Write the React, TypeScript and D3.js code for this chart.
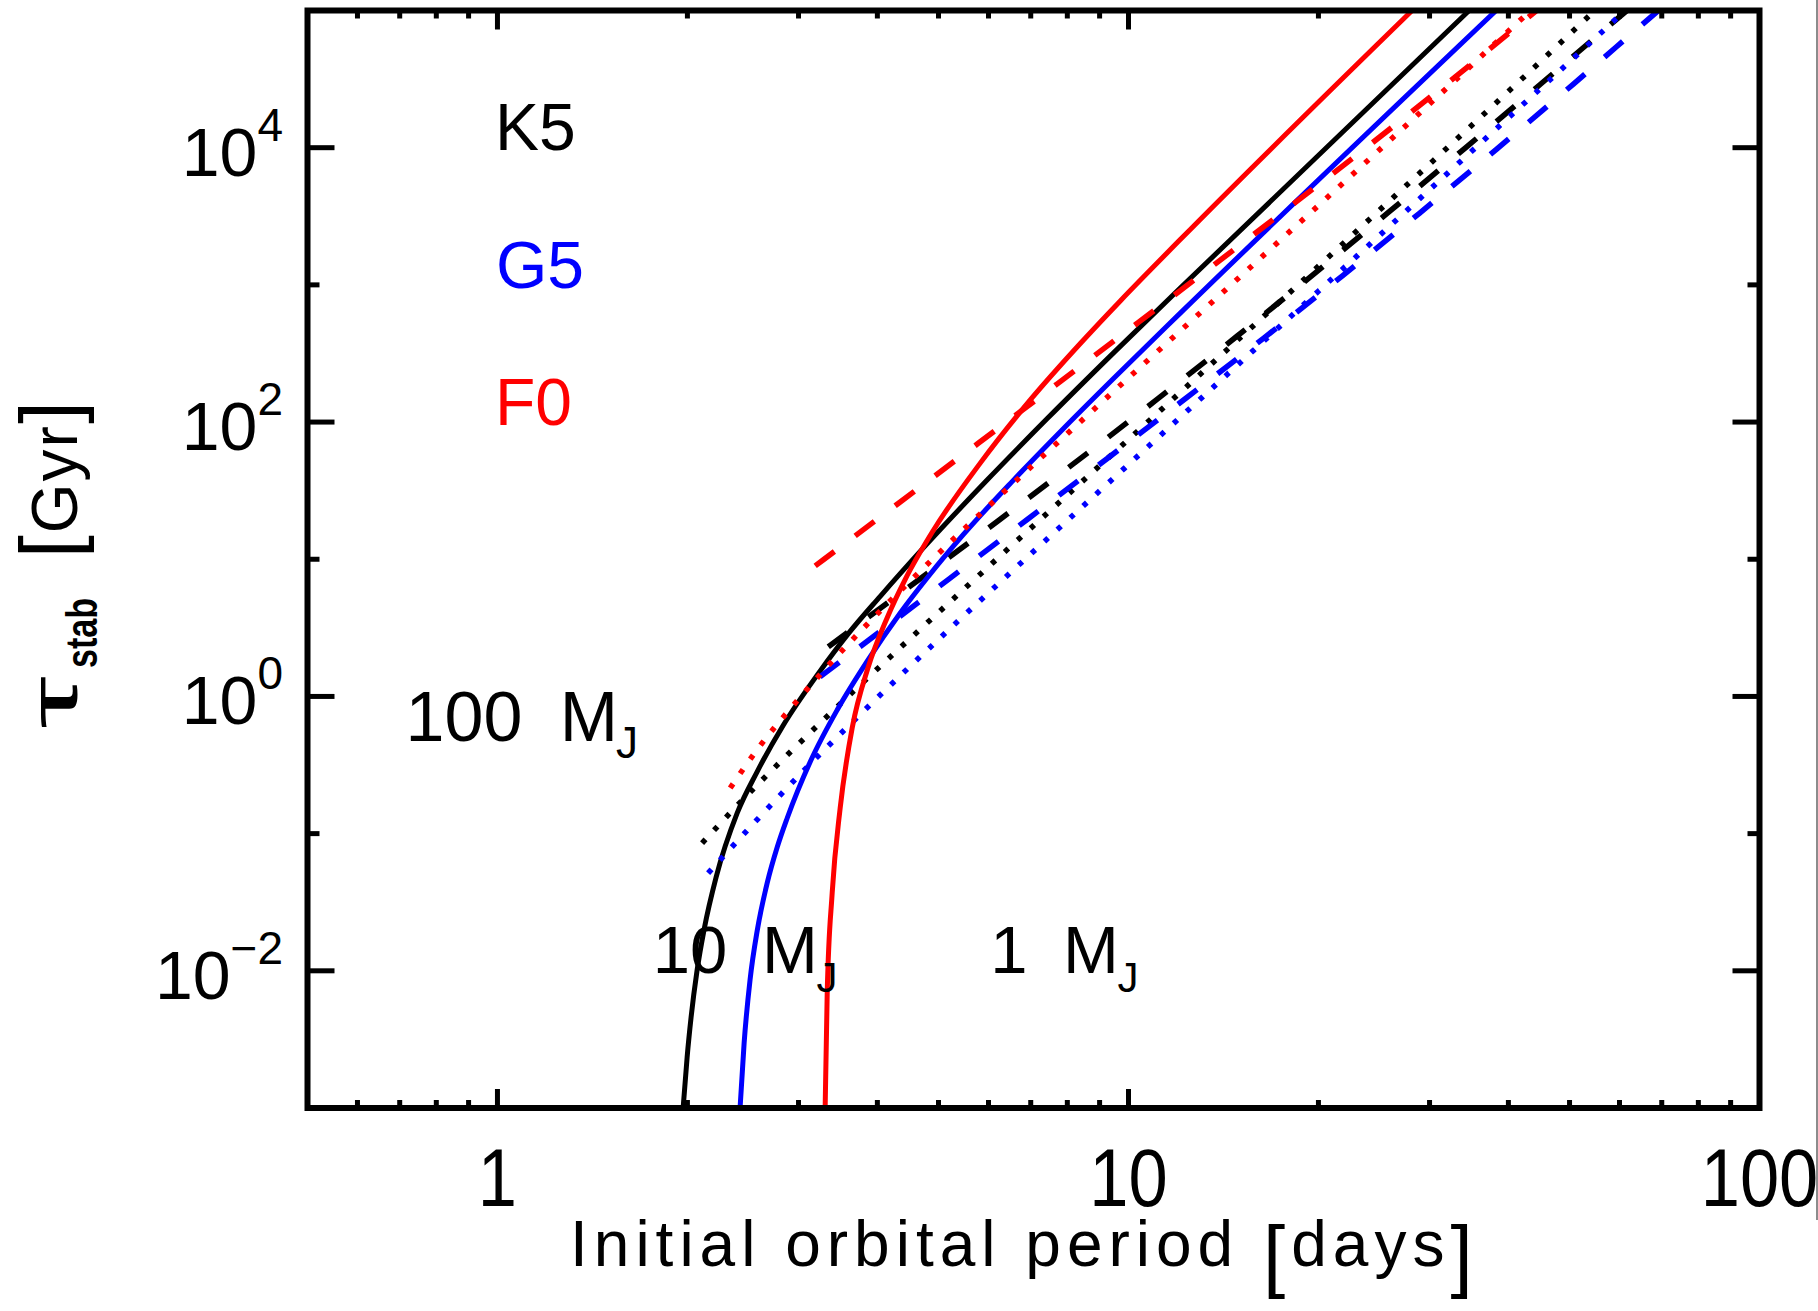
import React from 'react';
import * as d3 from 'd3';

const W = 1818;
const H = 1311;

// Axis domains
const X_DOMAIN: [number, number] = [0.5, 100];
const Y_DOMAIN: [number, number] = [1e-3, 1e5];

// Tick values and labels
const xMajorTicks = [1, 10];
const xLabelValues = [1, 10, 100];
const xTickLabels = ['1', '10', '100'];
const xMinorTicks = [0.6, 0.7, 0.8, 0.9, 2, 3, 4, 5, 6, 7, 8, 9, 20, 30, 40, 50, 60, 70, 80, 90];
const yMajorTicks = [1e-2, 1, 1e2, 1e4];
const yTickExponents = ['\u22122', '0', '2', '4'];
const yMinorTicks = [1e-1, 1e1, 1e3];

// Series: [initial orbital period (days), tau_stab (Gyr)]
const k5Solid: [number, number][] = [
  [1.969, 1.0e-3], [1.998, 2.35e-3], [2.027, 4.58e-3], [2.072, 0.0101], [2.126, 0.0201],
  [2.221, 0.0482], [2.398, 0.141], [2.579, 0.282], [2.836, 0.614], [3.245, 1.53],
  [3.582, 2.8], [4.042, 5.37], [4.727, 12.05], [5.97, 37.8], [7.435, 106],
  [9.46, 318], [12.08, 948], [34.83, 1.02e5],
];
const k5Dashed: [number, number][] = [
  [3.344, 2.3], [4.642, 7.03], [6.218, 19.1], [8.295, 52.1], [11.07, 145], [14.87, 424],
  [19.49, 1159], [25.81, 3373], [34.31, 1.01e4], [44.96, 2.9e4], [59.55, 8.73e4], [61.97, 1.02e5],
];
const k5Dotted: [number, number][] = [
  [2.11, 0.0853], [2.407, 0.163], [2.879, 0.374], [3.454, 0.841], [4.161, 1.88], [4.995, 4.08],
  [6.036, 9.06], [8.763, 43.0], [12.76, 207], [17.85, 847], [26.97, 4842], [41.34, 2.96e4],
  [55.1, 1.02e5],
];
const g5Solid: [number, number][] = [
  [2.424, 1.01e-3], [2.46, 2.99e-3], [2.514, 8.65e-3], [2.58, 0.0196], [2.676, 0.0437],
  [2.776, 0.0798], [2.879, 0.13], [3.131, 0.334], [3.454, 0.796], [3.855, 1.81],
  [4.348, 4.06], [4.799, 7.33], [5.472, 15.1], [6.568, 37.6], [7.883, 89.5],
  [9.46, 207], [12.08, 622], [38.42, 1.02e5],
];
const g5Dashed: [number, number][] = [
  [3.245, 1.39], [3.883, 2.59], [5.18, 7.11], [6.912, 19.5], [9.257, 54.3], [12.3, 148],
  [16.42, 413], [21.83, 1164], [28.91, 3327], [38.29, 9727], [50.71, 2.91e4], [66.2, 8.41e4],
  [69.5, 1.02e5],
];
const g5Dotted: [number, number][] = [
  [2.157, 0.0516], [2.561, 0.122], [3.051, 0.285], [3.648, 0.648], [4.379, 1.46], [5.255, 3.23],
  [6.331, 7.14], [8.388, 23.4], [11.15, 77.4], [14.77, 252], [20.51, 1000], [28.28, 3855],
  [41.34, 1.9e4], [54.57, 6.12e4], [61.5, 1.02e5],
];
const f0Solid: [number, number][] = [
  [3.306, 1.0e-3], [3.331, 6.93e-3], [3.392, 0.037], [3.492, 0.153], [3.648, 0.586],
  [3.868, 1.63], [4.146, 3.75], [4.428, 7.14], [4.905, 16.2], [5.822, 50.2], [6.988, 145],
  [8.388, 374], [9.705, 764], [12.08, 2138], [28.28, 1.02e5],
];
const f0Dashed: [number, number][] = [
  [3.188, 8.95], [4.316, 25.5], [5.779, 70.0], [7.712, 190], [10.33, 526], [13.78, 1442],
  [18.39, 3990], [24.44, 1.1e4], [32.73, 3.2e4], [42.72, 8.69e4], [44.57, 1.02e5],
];
const f0Dotted: [number, number][] = [
  [2.338, 0.215], [2.608, 0.438], [2.964, 0.895], [3.344, 1.68], [3.798, 3.13], [4.161, 4.81],
  [4.977, 10.8], [6.568, 35.8], [8.699, 117], [10.95, 307], [13.34, 698], [16.01, 1496],
  [20.36, 4083], [26.97, 1.33e4], [33.95, 3.52e4], [39.28, 6.55e4], [43.6, 1.02e5],
];

const BLACK = '#000000';
const BLUE = '#0000ff';
const RED = '#ff0000';

type Style = 'solid' | 'dashed' | 'dotted';
const series: { data: [number, number][]; color: string; style: Style }[] = [
  { data: k5Dotted, color: BLACK, style: 'dotted' },
  { data: k5Dashed, color: BLACK, style: 'dashed' },
  { data: k5Solid, color: BLACK, style: 'solid' },
  { data: g5Dotted, color: BLUE, style: 'dotted' },
  { data: g5Dashed, color: BLUE, style: 'dashed' },
  { data: g5Solid, color: BLUE, style: 'solid' },
  { data: f0Dotted, color: RED, style: 'dotted' },
  { data: f0Dashed, color: RED, style: 'dashed' },
  { data: f0Solid, color: RED, style: 'solid' },
];

const FONT = '"Liberation Sans", Arial, Helvetica, sans-serif';

export default function App() {
  const L = 307.5, R = 1759.5, T = 10.5, B = 1108;
  const x = d3.scaleLog().domain(X_DOMAIN).range([L, R]);
  const y = d3.scaleLog().domain(Y_DOMAIN).range([B, T]);

  const line = d3
    .line<[number, number]>()
    .x((d) => x(d[0]))
    .y((d) => y(d[1]))
    .curve(d3.curveMonotoneX);

  const dash: Record<Style, string | undefined> = {
    solid: undefined,
    dashed: '24 26',
    dotted: '5 12.5',
  };
  const width: Record<Style, number> = { solid: 5, dashed: 5.5, dotted: 5.5 };

  const xMajLen = 19, xMinLen = 8, yMajLen = 27, yMinLen = 12;
  const xLabelFont = 82;
  const xLabelSquash = 0.86;

  return (
    <svg
      width={W}
      height={H}
      style={{ position: 'absolute', left: 0, top: 0, background: '#fff' }}
      fontFamily={FONT}
    >
      <rect x={0} y={0} width={W} height={H} fill="#fff" />
      <defs>
        <clipPath id="plotClip">
          <rect x={L} y={T} width={R - L} height={B - T} />
        </clipPath>
      </defs>

      {/* curves */}
      <g clipPath="url(#plotClip)" fill="none">
        {series.map((s, i) => (
          <path
            key={i}
            d={line(s.data) || ''}
            stroke={s.color}
            strokeWidth={width[s.style]}
            strokeDasharray={dash[s.style]}
            strokeLinecap="butt"
            strokeLinejoin="round"
          />
        ))}
      </g>

      {/* ticks */}
      <g stroke="#000" strokeWidth={5}>
        {xMajorTicks.map((v) => (
          <g key={'xM' + v}>
            <line x1={x(v)} x2={x(v)} y1={B} y2={B - xMajLen} />
            <line x1={x(v)} x2={x(v)} y1={T} y2={T + xMajLen} />
          </g>
        ))}
        {xMinorTicks.map((v) => (
          <g key={'xm' + v}>
            <line x1={x(v)} x2={x(v)} y1={B} y2={B - xMinLen} />
            <line x1={x(v)} x2={x(v)} y1={T} y2={T + xMinLen} />
          </g>
        ))}
        {yMajorTicks.map((v) => (
          <g key={'yM' + v}>
            <line x1={L} x2={L + yMajLen} y1={y(v)} y2={y(v)} />
            <line x1={R} x2={R - yMajLen} y1={y(v)} y2={y(v)} />
          </g>
        ))}
        {yMinorTicks.map((v) => (
          <g key={'ym' + v}>
            <line x1={L} x2={L + yMinLen} y1={y(v)} y2={y(v)} />
            <line x1={R} x2={R - yMinLen} y1={y(v)} y2={y(v)} />
          </g>
        ))}
      </g>

      {/* frame */}
      <rect x={L} y={T} width={R - L} height={B - T} fill="none" stroke="#000" strokeWidth={6} />

      {/* x tick labels */}
      {xLabelValues.map((v, i) => (
        <text
          key={'xl' + v}
          x={x(v)}
          y={1206}
          fontSize={xLabelFont}
          textAnchor="middle"
          textLength={xTickLabels[i].length * 0.556 * xLabelFont * xLabelSquash}
          lengthAdjust="spacingAndGlyphs"
          fill="#000"
        >
          {xTickLabels[i]}
        </text>
      ))}

      {/* y tick labels */}
      {yMajorTicks.map((v, i) => (
        <text key={'yl' + v} x={283} y={y(v) + 28} fontSize={68} textAnchor="end" fill="#000">
          10
          <tspan dy={-35} fontSize={46}>
            {yTickExponents[i]}
          </tspan>
        </text>
      ))}

      {/* x title */}
      <text x={570} y={1266} fontSize={64} letterSpacing={6} fill="#000">
        Initial orbital period{' '}
        <tspan fontSize={80} dy={16}>[</tspan>
        <tspan dy={-16}>days</tspan>
        <tspan fontSize={80} dy={16}>]</tspan>
      </text>

      {/* y title */}
      <text
        transform="translate(77,729) rotate(-90)"
        fontSize={68}
        textLength={53}
        lengthAdjust="spacingAndGlyphs"
        fill="#000"
      >
        τ
      </text>
      <text
        transform="translate(97,668) rotate(-90)"
        fontSize={44}
        fontWeight="bold"
        textLength={70}
        lengthAdjust="spacingAndGlyphs"
        fill="#000"
      >
        stab
      </text>
      <text transform="translate(77,558) rotate(-90)" fontSize={64} letterSpacing={2} fill="#000">
        <tspan fontSize={82}>[</tspan>
        <tspan>Gyr</tspan>
        <tspan fontSize={82}>]</tspan>
      </text>

      {/* star type labels */}
      <text x={495} y={150} fontSize={66} fill={BLACK}>K5</text>
      <text x={496} y={288} fontSize={66} fill={BLUE}>G5</text>
      <text x={495} y={425} fontSize={66} fill={RED}>F0</text>

      {/* planet mass labels */}
      <text x={464} y={741} fontSize={70} textAnchor="middle" fill="#000">100</text>
      <text x={589} y={741} fontSize={70} textAnchor="middle" fill="#000">M</text>
      <text x={627} y={758} fontSize={44} textAnchor="middle" fill="#000">J</text>

      <text x={690} y={973} fontSize={67} textAnchor="middle" fill="#000">10</text>
      <text x={790} y={973} fontSize={67} textAnchor="middle" fill="#000">M</text>
      <text x={827} y={992} fontSize={42} textAnchor="middle" fill="#000">J</text>

      <text x={1009} y={973} fontSize={67} textAnchor="middle" fill="#000">1</text>
      <text x={1091} y={973} fontSize={67} textAnchor="middle" fill="#000">M</text>
      <text x={1128} y={992} fontSize={42} textAnchor="middle" fill="#000">J</text>

      {/* thin border line at right edge of the original image */}
      <line x1={1817} x2={1817} y1={0} y2={1220} stroke="#666" strokeWidth={1.5} />
    </svg>
  );
}
